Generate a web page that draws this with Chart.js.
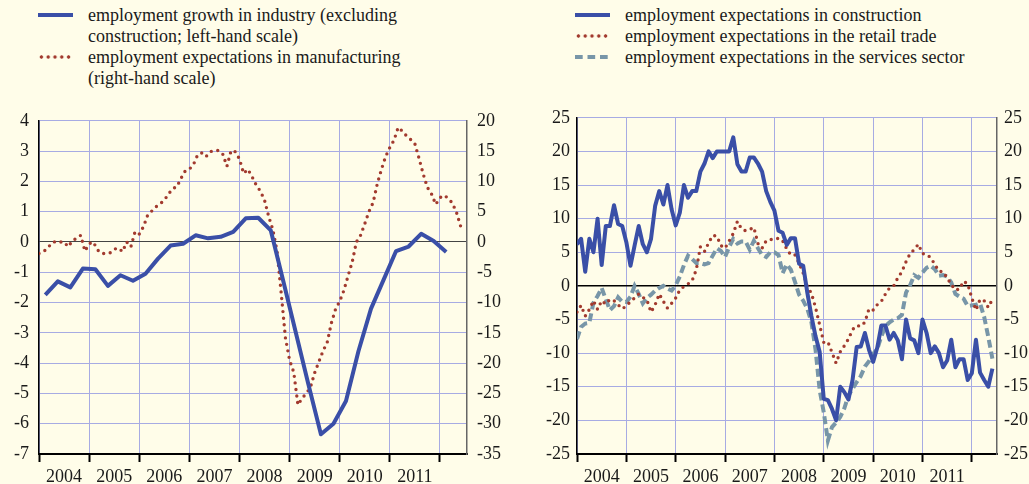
<!DOCTYPE html>
<html>
<head>
<meta charset="utf-8">
<script src="https://cdn.jsdelivr.net/npm/chart.js@4.4.0/dist/chart.umd.min.js"></script>
<style>
  html, body { margin: 0; padding: 0; }
  body {
    width: 1029px; height: 484px; position: relative; overflow: hidden;
    background: #fffde9; color: #1a1a1a;
    font-family: "Liberation Serif", "Times New Roman", serif;
  }
  .legend { position: absolute; top: 5px; font-size: 18px; line-height: 21px; }
  .legend .row { position: relative; padding-left: 50px; white-space: nowrap; }
  .key { position: absolute; left: 0; top: 7.5px; width: 35px; height: 4.5px; }
  .key.solid { background: #3a4fa7; }
  .key.dots { background: radial-gradient(circle, #a23a2e 1.6px, transparent 2.1px) 0 0 / 6.8px 4.5px repeat-x; }
  .key.dash { background: linear-gradient(to right, #7896a8 8px, transparent 8px) 0 0 / 12.5px 4.5px repeat-x; }
  canvas { position: absolute; top: 100px; }
</style>
</head>
<body>
<div class="legend" style="left:38px">
  <div class="row"><span class="key solid"></span>employment growth in industry (excluding<br>construction; left-hand scale)</div>
  <div class="row"><span class="key dots"></span>employment expectations in manufacturing<br>(right-hand scale)</div>
</div>
<div class="legend" style="left:575px">
  <div class="row"><span class="key solid"></span>employment expectations in construction</div>
  <div class="row"><span class="key dots"></span>employment expectations in the retail trade</div>
  <div class="row"><span class="key dash"></span>employment expectations in the services sector</div>
</div>
<canvas id="industria" width="520" height="384" style="left:0"></canvas>
<canvas id="expectativas" width="509" height="384" style="left:520px"></canvas>
<script>
// year labels under the x axis (one per full year)
const yearLabels = ['2004', '2005', '2006', '2007', '2008', '2009', '2010', '2011'];

// quarterly, 2004 Q1 .. 2012 Q1 (% change, left-hand scale)
const industryGrowth = [
  -1.75, -1.3, -1.5, -0.88,
  -0.9, -1.45, -1.1, -1.28,
  -1.05, -0.55, -0.12, -0.06,
  0.22, 0.12, 0.17, 0.33,
  0.78, 0.8, 0.38, -1.3,
  -3.0, -4.7, -6.35, -6.0,
  -5.25, -3.6, -2.2, -1.25,
  -0.3, -0.15, 0.27, 0.03,
  -0.33
];

// monthly, Jan 2004 .. Jun 2012 (balance, right-hand scale)
const manufacturingExp = [
  -1.9, -1.6, -1.1, -0.2, 0.1, 0.0, 0.0, -0.8, 0.2, 0.6, 1.1, -1.5,
  -0.3, 0.0, -1.3, -1.9, -1.9, -1.8, -1.2, -1.0, -1.6, 0.0, -0.8, 1.7,
  1.3, 2.5, 4.4, 5.1, 5.8, 6.3, 6.9, 7.9, 8.8, 9.1, 10.5, 11.7,
  12.0, 12.8, 14.4, 14.7, 14.1, 14.9, 15.1, 15.1, 14.5, 12.5, 15.1, 14.9,
  13.7, 11.3, 12.0, 10.8, 9.4, 8.4, 6.9, 4.2, 2.0, -1.5, -8.5, -15.8,
  -19.5, -21.5, -26.9, -25.8, -25.0, -24.0, -21.6, -19.8, -18.0, -16.6, -13.4, -11.1,
  -9.8, -8.0, -5.6, -3.3, 0.0, 1.1, 3.0, 5.0, 6.5, 9.6, 12.0, 14.1,
  15.6, 16.8, 18.9, 18.3, 17.5, 16.9, 16.2, 13.8, 11.2, 9.0, 7.9, 6.2,
  7.3, 7.7, 7.2, 6.4, 4.8, 2.5
];

// monthly, Jan 2004 .. Jun 2012
const constructionExp = [
  6.2, 7.0, 2.1, 7.0, 5.0, 10.0, 3.1, 8.9, 8.9, 12.0, 9.2, 8.9,
  6.5, 3.0, 6.0, 8.9, 6.2, 5.0, 7.0, 11.9, 14.1, 12.1, 15.0, 11.4,
  9.0, 10.9, 15.0, 13.1, 14.1, 14.1, 17.0, 18.2, 20.0, 19.0, 20.0, 20.0,
  20.0, 20.0, 22.1, 18.1, 17.0, 17.0, 19.1, 19.1, 18.2, 17.0, 14.1, 12.5,
  11.2, 8.2, 7.9, 6.1, 7.1, 7.1, 3.3, 3.0, -1.0, -4.5, -7.5, -9.8,
  -16.8, -17.0, -18.3, -20.0, -15.0, -15.8, -16.9, -14.0, -9.1, -9.0, -7.0, -9.5,
  -11.3, -9.2, -5.9, -5.9, -8.0, -7.0, -8.1, -10.9, -5.0, -7.8, -8.1, -10.0,
  -5.0, -7.0, -10.0, -9.0, -10.0, -12.1, -11.1, -8.0, -12.1, -10.9, -10.9, -14.0,
  -13.0, -8.0, -12.9, -14.0, -15.0, -12.3
];

const retailExp = [
  -3.9, -2.9, -4.5, -3.5, -2.2, -3.5, -2.2, -2.7, -2.0, -2.2, -2.8, -3.4,
  -3.0, -2.3, -1.8, -1.2, -1.7, -2.1, -3.9, -2.8, -1.2, -2.3, -3.3, -2.6,
  -1.8, -0.6, -0.1, 0.3, 0.8, 2.4, 5.8, 5.1, 6.4, 7.5, 7.4, 6.0,
  5.6, 6.7, 7.8, 9.6, 8.5, 8.2, 8.4, 8.7, 6.3, 5.6, 6.7, 6.9,
  6.9, 7.1, 6.7, 5.5, 4.6, 4.6, 3.4, 1.9, -0.1, -1.1, -3.2, -5.8,
  -8.4, -8.3, -9.9, -11.5, -9.8, -8.9, -7.9, -6.5, -5.9, -6.0, -5.4, -3.4,
  -3.6, -2.8, -2.3, -1.2, -0.3, 0.0, 1.2, 2.1, 3.6, 4.8, 5.4, 6.2,
  4.8, 4.7, 4.2, 3.2, 2.2, 2.1, 1.2, 0.2, -0.6, -0.5, 0.7, 0.3,
  -1.8, -3.6, -2.0, -2.2, -3.2, -2.0
];

const servicesExp = [
  -7.9, -6.1, -5.6, -5.5, -2.5, -1.5, -0.3, -2.0, -3.6, -3.0, -1.7, -2.4,
  -2.4, -1.6, 0.0, -1.2, -2.6, -1.8, -1.3, -0.7, -0.3, 0.0, -0.4, -0.7,
  0.1, 1.4, 3.1, 4.5, 4.0, 3.4, 3.4, 3.2, 3.4, 4.5, 5.6, 5.2,
  4.3, 5.8, 7.0, 6.3, 6.6, 6.6, 5.4, 6.7, 5.6, 4.6, 4.3, 5.0,
  5.0, 4.6, 1.9, 3.2, 2.4, 0.6, -1.3, -2.2, -3.4, -5.4, -9.5, -15.5,
  -18.8, -23.0, -21.0, -20.3, -19.5, -18.2, -16.3, -15.3, -14.3, -13.4, -12.0, -11.2,
  -10.1, -9.4, -7.5, -6.0, -5.4, -5.0, -4.8, -4.3, -1.0, 0.1, 1.6, 1.2,
  2.0, 2.7, 3.0, 2.5, 1.5, 1.6, 1.4, 0.5, -1.2, -1.6, -1.9, -3.0,
  -2.9, -2.8, -2.6, -4.6, -7.6, -10.8
];

const BLUE = '#3a4fa7';
const RED = '#a23a2e';
const GREY = '#7896a8';
const GRID = '#a7abe3';

Chart.defaults.font.family = '"Liberation Serif", "Times New Roman", serif';
Chart.defaults.font.size = 18;
Chart.defaults.color = '#1a1a1a';

function monthly(values) {
  return values.map((v, i) => ({ x: 2004 + i / 12, y: v }));
}

function quarterly(values) {
  return values.map((v, i) => ({ x: 2004 + (3 * i + 1.5) / 12, y: v }));
}

// ticks on every year boundary (grid + tick mark) and mid-year (label only)
const yearTicks = [];
for (let y = 2004; y <= 2012; y++) {
  yearTicks.push(y);
  if (y < 2012) yearTicks.push(y + 0.5);
}

const isYear = (c) => c.tick && Number.isInteger(c.tick.value);

function yearAxis(max) {
  return {
    type: 'linear',
    min: 2004,
    max: max,
    afterBuildTicks: (axis) => { axis.ticks = yearTicks.map(v => ({ value: v })); },
    afterFit: (axis) => { axis.height = 30; },
    grid: {
      color: c => isYear(c) ? GRID : 'rgba(0,0,0,0)',
      tickColor: c => isYear(c) ? '#000' : 'rgba(0,0,0,0)',
      tickLength: 8,
      tickWidth: 2
    },
    border: { color: '#000', width: 2 },
    ticks: {
      autoSkip: false,
      maxRotation: 0,
      padding: 4,
      callback: v => Number.isInteger(v) ? '' : yearLabels[Math.floor(v) - 2004]
    }
  };
}

function valueAxis(opts) {
  return {
    type: 'linear',
    position: opts.position,
    min: opts.min,
    max: opts.max,
    afterFit: (axis) => { axis.width = opts.width; },
    grid: {
      drawOnChartArea: opts.grid,
      drawTicks: false,
      color: c => c.tick && c.tick.value === 0 ? opts.zeroColor : GRID,
      lineWidth: c => c.tick && c.tick.value === 0 ? opts.zeroWidth : 1
    },
    border: { color: opts.borderColor, width: 1.5 },
    ticks: {
      stepSize: opts.step,
      padding: opts.padding,
      crossAlign: 'near'
    }
  };
}

const common = {
  responsive: false,
  animation: false,
  devicePixelRatio: 1,
  layout: { padding: { top: 14, left: 0, right: 0, bottom: 0 } },
  plugins: { legend: { display: false }, tooltip: { enabled: false } },
  elements: { point: { radius: 0 }, line: { tension: 0 } }
};

new Chart(document.getElementById('industria'), {
  type: 'line',
  data: {
    datasets: [
      {
        label: 'employment growth in industry',
        data: quarterly(industryGrowth),
        yAxisID: 'y',
        borderColor: BLUE,
        borderWidth: 4,
        borderJoinStyle: 'round'
      },
      {
        label: 'employment expectations in manufacturing',
        data: monthly(manufacturingExp),
        yAxisID: 'y2',
        borderColor: RED,
        borderWidth: 3.4,
        borderDash: [0, 6.6],
        borderCapStyle: 'round'
      }
    ]
  },
  options: {
    ...common,
    scales: {
      x: yearAxis(2012.54),
      y: valueAxis({ position: 'left', min: -7, max: 4, step: 1, width: 39, padding: 10,
                     grid: true, zeroColor: '#444', zeroWidth: 1, borderColor: '#000' }),
      y2: valueAxis({ position: 'right', min: -35, max: 20, step: 5, width: 53, padding: 10,
                      grid: false, zeroColor: GRID, zeroWidth: 1, borderColor: '#666' })
    }
  }
});

new Chart(document.getElementById('expectativas'), {
  type: 'line',
  data: {
    datasets: [
      {
        label: 'construction',
        data: monthly(constructionExp),
        yAxisID: 'y',
        borderColor: BLUE,
        borderWidth: 4,
        borderJoinStyle: 'round'
      },
      {
        label: 'retail trade',
        data: monthly(retailExp),
        yAxisID: 'y',
        borderColor: RED,
        borderWidth: 3.4,
        borderDash: [0, 6.6],
        borderCapStyle: 'round'
      },
      {
        label: 'services sector',
        data: monthly(servicesExp),
        yAxisID: 'y',
        borderColor: GREY,
        borderWidth: 4,
        borderDash: [8, 4]
      }
    ]
  },
  options: {
    ...common,
    scales: {
      x: yearAxis(2012.51),
      y: valueAxis({ position: 'left', min: -25, max: 25, step: 5, width: 57, padding: 7,
                     grid: true, zeroColor: '#000', zeroWidth: 1.5, borderColor: '#000' }),
      y2: valueAxis({ position: 'right', min: -25, max: 25, step: 5, width: 32, padding: 7,
                      grid: false, zeroColor: GRID, zeroWidth: 1, borderColor: '#666' })
    }
  }
});
</script>
</body>
</html>
